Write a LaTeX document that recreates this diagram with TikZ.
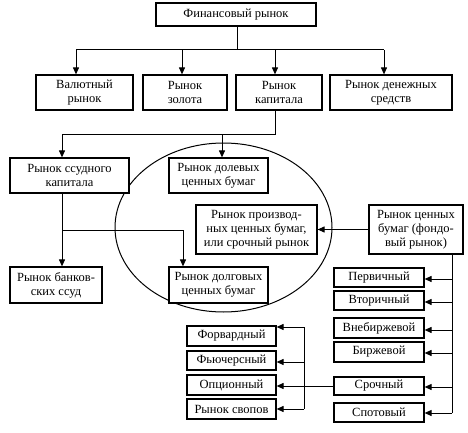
\documentclass[tikz,border=0pt]{standalone}
\usepackage{fontspec}
\setmainfont{Liberation Serif}
\usetikzlibrary{arrows.meta}
\begin{document}
\begin{tikzpicture}[x=1pt,y=-1pt,
  box/.style={draw,line width=1.2pt,fill=white,inner sep=0pt,align=center,
    font=\fontsize{12.5}{14}\selectfont},
  conn/.style={line width=1pt,-{Triangle[length=7pt,width=6pt]}},
  ln/.style={line width=1pt}]
\useasboundingbox (0,0) rectangle (468,433);
\draw[line width=1pt] (223.5,227.5) ellipse [x radius=108.5, y radius=84.5];
% top levels
\node[box,minimum width=160pt,minimum height=23pt] (fin) at (236,14.5) {Финансовый рынок};
\node[box,minimum width=97pt,minimum height=35pt] (val) at (84.5,92.5) {Валютный\\рынок};
\node[box,minimum width=84pt,minimum height=35pt] (gold) at (185,92.5) {Рынок\\золота};
\node[box,minimum width=86pt,minimum height=35pt] (cap) at (279,92.5) {Рынок\\капитала};
\node[box,minimum width=122pt,minimum height=35pt] (money) at (391,92.5) {Рынок денежных\\средств};
\node[box,minimum width=119pt,minimum height=35pt] (loan) at (69.5,175.5) {Рынок ссудного\\капитала};
\node[box,minimum width=99pt,minimum height=35pt] (eq) at (218.5,175.5) {Рынок долевых\\ценных бумаг};
\node[box,minimum width=121pt,minimum height=49pt] (der) at (256.5,229.5) {Рынок производ-\\ных ценных бумаг,\\или срочный рынок};
\node[box,minimum width=94pt,minimum height=49pt] (sec) at (416,229.5) {Рынок ценных\\бумаг (фондо-\\вый рынок)};
\node[box,minimum width=92pt,minimum height=36pt] (bank) at (56,285) {Рынок банков-\\ских ссуд};
\node[box,minimum width=99pt,minimum height=36pt] (debt) at (218.5,285) {Рынок долговых\\ценных бумаг};
% right column
\node[box,minimum width=90pt,minimum height=19pt] (perv) at (379,277.5) {Первичный};
\node[box,minimum width=90pt,minimum height=19pt] (vtor) at (379,300.5) {Вторичный};
\node[box,minimum width=90pt,minimum height=20pt] (vneb) at (379,328) {Внебиржевой};
\node[box,minimum width=90pt,minimum height=20pt] (birz) at (379,352) {Биржевой};
\node[box,minimum width=90pt,minimum height=18pt] (sroch) at (379,386) {Срочный};
\node[box,minimum width=90pt,minimum height=19pt] (spot) at (379,412.5) {Спотовый};
% left group
\node[box,minimum width=89pt,minimum height=20pt] (forw) at (231.5,336) {Форвардный};
\node[box,minimum width=89pt,minimum height=19pt] (fut) at (231.5,360.5) {Фьючерсный};
\node[box,minimum width=89pt,minimum height=20pt] (opt) at (231.5,385) {Опционный};
\node[box,minimum width=89pt,minimum height=20pt] (swap) at (231.5,409) {Рынок свопов};
% junction coordinates
\coordinate (j1) at (237,50);
\coordinate (j2) at (275,134);
\coordinate (j3) at (62,230);
\coordinate (j4) at (452,413);
\coordinate (j5) at (304,409);
% connectors
\draw[ln] (fin.south -| j1) -- (j1);
\draw[ln] (76,50) -- (384,50);
\draw[conn] (76,50) -- (val.north -| 76,0);
\draw[conn] (182,50) -- (gold.north -| 182,0);
\draw[conn] (275,50) -- (cap.north -| 275,0);
\draw[conn] (384,50) -- (money.north -| 384,0);
\draw[ln] (cap.south -| j2) -- (j2) -- (62,134);
\draw[conn] (62,134) -- (loan.north -| 62,0);
\draw[conn] (222,134) -- (eq.north -| 222,0);
\draw[conn] (loan.south -| j3) -- (bank.north -| j3);
\draw[conn] (j3) -- (183,230) -- (debt.north -| 183,0);
\draw[conn] (sec.west |- der.east) -- (der.east);
\draw[ln] (sec.south -| j4) -- (j4);
\foreach \n/\y in {perv/279,vtor/302,vneb/330,birz/353,sroch/387,spot/413}
  \draw[conn] (452,\y) -- (\n.east |- 0,\y);
\draw[ln] (304,327) -- (j5);
\foreach \n/\y in {forw/327,fut/362,swap/409}
  \draw[conn] (304,\y) -- (\n.east |- 0,\y);
\draw[conn] (sroch.west) -- (opt.east |- sroch.west);
\end{tikzpicture}
\end{document}
